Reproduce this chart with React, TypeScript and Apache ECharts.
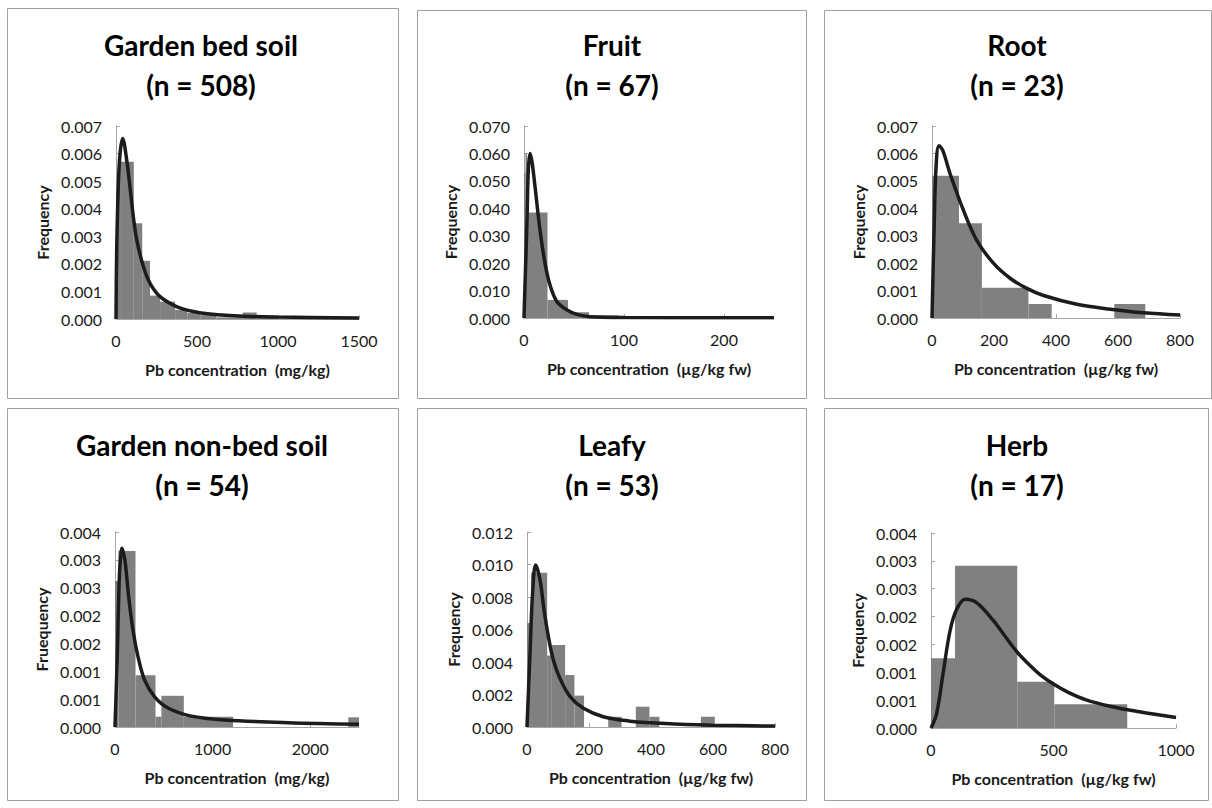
import React, { useEffect, useRef } from "react";
import * as echarts from "echarts";

const FONT = 'Lato, "Open Sans", sans-serif';

// ---------- Panel titles ----------
const panelTitles = ["Garden bed soil", "Fruit", "Root", "Garden non-bed soil", "Leafy", "Herb"];
const panelCounts = ["(n = 508)", "(n = 67)", "(n = 23)", "(n = 54)", "(n = 53)", "(n = 17)"];
const xAxisNames = [
  "Pb concentration  (mg/kg)",
  "Pb concentration  (µg/kg fw)",
  "Pb concentration  (µg/kg fw)",
  "Pb concentration  (mg/kg)",
  "Pb concentration  (µg/kg fw)",
  "Pb concentration  (µg/kg fw)",
];
const yAxisNames = ["Frequency", "Frequency", "Frequency", "Fruequency", "Frequency", "Frequency"];

// ---------- Axis ranges ----------
const xMax = [1500, 250, 800, 2500, 800, 1000];
const xInterval = [500, 100, 200, 1000, 200, 500];
const yMax = [0.007, 0.07, 0.007, 0.0035, 0.012, 0.0035];
const yInterval = [0.001, 0.01, 0.001, 0.0005, 0.002, 0.0005];

// ---------- Panel 1: Garden bed soil ----------
const bedSoilBinStart = [0, 25, 110, 162, 210, 272, 365, 440, 520, 620, 782, 868];
const bedSoilBinEnd = [25, 110, 162, 210, 272, 365, 440, 520, 620, 782, 868, 1000];
const bedSoilDensity = [0.0047, 0.0057, 0.00347, 0.00211, 0.00085, 0.00063, 0.00033, 0.00022, 0.00014, 0.00006, 0.00024, 0.00005];
const bedSoilFitX = [0, 4, 14, 25, 41, 66, 86, 107, 128, 169, 210, 272, 374, 477, 580, 786, 1000, 1500];
const bedSoilFitY = [0, 0.0024, 0.0048, 0.006, 0.00655, 0.00577, 0.0048, 0.00371, 0.00287, 0.0019, 0.00129, 0.00081, 0.00045, 0.00027, 0.00018, 0.0001, 0.00007, 0.00004];

// ---------- Panel 2: Fruit ----------
const fruitBinStart = [0, 1.5, 3, 23.5, 44, 65, 200];
const fruitBinEnd = [1.5, 3, 23.5, 44, 65, 95, 225];
const fruitDensity = [0.053, 0.06, 0.0385, 0.0066, 0.0021, 0.001, 0.0005];
const fruitFitX = [0, 1, 3, 4.3, 6, 8, 11, 16, 21, 26, 33, 43, 53, 66, 100, 250];
const fruitFitY = [0, 0.012, 0.0357, 0.054, 0.06, 0.057, 0.048, 0.032, 0.02, 0.012, 0.0059, 0.0029, 0.0013, 0.0005, 0.0002, 0.00005];

// ---------- Panel 3: Root ----------
const rootBinStart = [0, 87, 161, 311, 588];
const rootBinEnd = [87, 161, 311, 386, 688];
const rootDensity = [0.00519, 0.00345, 0.0011, 0.00051, 0.00051];
const rootFitX = [0, 6.5, 13, 22.5, 35, 58, 101, 144, 198, 252, 306, 360, 467, 575, 682, 800];
const rootFitY = [0, 0.0031, 0.0055, 0.00628, 0.0061, 0.00527, 0.00394, 0.00284, 0.002, 0.00145, 0.00108, 0.00082, 0.0005, 0.00032, 0.00019, 0.00011];

// ---------- Panel 4: Garden non-bed soil ----------
const nonBedBinStart = [0, 35, 210, 415, 475, 705, 2390];
const nonBedBinEnd = [35, 210, 415, 475, 705, 1210, 2500];
const nonBedDensity = [0.00262, 0.00316, 0.00093, 0.000185, 0.00056, 0.000185, 0.000174];
const nonBedFitX = [0, 24, 41, 55, 72, 90, 106, 140, 184, 236, 304, 406, 543, 782, 1124, 1773, 2500];
const nonBedFitY = [0, 0.00132, 0.00252, 0.003, 0.00321, 0.0031, 0.00294, 0.00234, 0.00174, 0.00126, 0.00084, 0.00054, 0.00034, 0.000195, 0.000126, 0.000077, 0.00005];

// ---------- Panel 5: Leafy ----------
const leafyBinStart = [0, 13, 65, 80, 123, 153, 262, 351, 395, 561];
const leafyBinEnd = [13, 65, 80, 123, 153, 184, 305, 395, 427, 606];
const leafyDensity = [0.0064, 0.0095, 0.0044, 0.00505, 0.0032, 0.00193, 0.00063, 0.00125, 0.00063, 0.00063];
const leafyFitX = [0, 9.7, 18, 28, 42, 55, 69, 85, 106, 139, 182, 246, 332, 400, 461, 600, 800];
const leafyFitY = [0, 0.00453, 0.00823, 0.00997, 0.00905, 0.0072, 0.00556, 0.00412, 0.003, 0.00187, 0.00115, 0.00063, 0.00036, 0.00026, 0.0002, 0.00011, 0.00006];

// ---------- Panel 6: Herb ----------
const herbBinStart = [0, 98, 352, 503];
const herbBinEnd = [98, 352, 503, 801];
const herbDensity = [0.00125, 0.00291, 0.00083, 0.000425];
const herbFitX = [0, 23, 50, 78, 105, 139, 186, 254, 300, 350, 400, 450, 503, 560, 630, 731, 850, 1000];
const herbFitY = [0, 0.00026, 0.001, 0.00175, 0.00213, 0.00231, 0.00225, 0.00193, 0.00166, 0.00137, 0.00114, 0.00094, 0.00078, 0.00064, 0.00051, 0.00039, 0.00029, 0.00019];

const binStarts = [bedSoilBinStart, fruitBinStart, rootBinStart, nonBedBinStart, leafyBinStart, herbBinStart];
const binEnds = [bedSoilBinEnd, fruitBinEnd, rootBinEnd, nonBedBinEnd, leafyBinEnd, herbBinEnd];
const densities = [bedSoilDensity, fruitDensity, rootDensity, nonBedDensity, leafyDensity, herbDensity];
const fitXs = [bedSoilFitX, fruitFitX, rootFitX, nonBedFitX, leafyFitX, herbFitX];
const fitYs = [bedSoilFitY, fruitFitY, rootFitY, nonBedFitY, leafyFitY, herbFitY];

// ---------- Layout (pixels) ----------
const layouts = [
  { box: [7, 8, 391, 390], grid: { left: 116, top: 126, width: 243, height: 193 }, tx: 201, ty: 45 },
  { box: [417, 10, 389, 388], grid: { left: 524, top: 126, width: 250, height: 192 }, tx: 612, ty: 45 },
  { box: [824, 10, 387, 388], grid: { left: 932, top: 126, width: 248, height: 192 }, tx: 1017, ty: 45 },
  { box: [7, 408, 391, 392], grid: { left: 115, top: 532, width: 244, height: 195 }, tx: 202, ty: 445 },
  { box: [417, 408, 389, 392], grid: { left: 527, top: 532, width: 248, height: 195 }, tx: 612, ty: 445 },
  { box: [824, 408, 384, 392], grid: { left: 931, top: 533, width: 245, height: 195 }, tx: 1017, ty: 445 },
];

const AXIS_GRAY = "#a6a6a6";
const TEXT = "#1a1a1a";

function buildOption() {
  const grid: any[] = [];
  const xAxis: any[] = [];
  const yAxis: any[] = [];
  const series: any[] = [];
  const graphic: any[] = [];

  layouts.forEach((l, i) => {
    grid.push({ ...l.grid });
    xAxis.push({
      type: "value",
      gridIndex: i,
      min: 0,
      max: xMax[i],
      interval: xInterval[i],
      name: xAxisNames[i],
      nameLocation: "middle",
      nameGap: 42,
      nameTextStyle: { fontFamily: FONT, fontSize: 16, fontWeight: "bold", color: TEXT },
      axisLine: { show: true, lineStyle: { color: AXIS_GRAY, width: 1 } },
      axisTick: { show: true, inside: true, length: 4, lineStyle: { color: AXIS_GRAY } },
      axisLabel: {
        fontFamily: FONT,
        fontSize: 16,
        color: TEXT,
        margin: 13,
        showMaxLabel: xMax[i] % xInterval[i] === 0,
        formatter: (v: number) => String(Math.round(v)),
      },
      splitLine: { show: false },
    });
    yAxis.push({
      type: "value",
      gridIndex: i,
      min: 0,
      max: yMax[i],
      interval: yInterval[i],
      name: yAxisNames[i],
      nameLocation: "middle",
      nameRotate: 90,
      nameGap: 66,
      nameTextStyle: { fontFamily: FONT, fontSize: 16, fontWeight: "bold", color: TEXT },
      axisLine: { show: true, lineStyle: { color: AXIS_GRAY, width: 1 } },
      axisTick: { show: true, inside: true, length: 4, lineStyle: { color: AXIS_GRAY } },
      axisLabel: {
        fontFamily: FONT,
        fontSize: 16,
        color: TEXT,
        margin: 14,
        formatter: (v: number) => (v + 1e-9).toFixed(3),
      },
      splitLine: { show: false },
    });

    const bins = binStarts[i].map((s, k) => [s, binEnds[i][k], densities[i][k]]);
    series.push({
      type: "custom",
      xAxisIndex: i,
      yAxisIndex: i,
      data: bins,
      encode: { x: [0, 1], y: 2 },
      z: 2,
      renderItem: (_params: any, api: any) => {
        const p0 = api.coord([api.value(0), api.value(2)]);
        const p1 = api.coord([api.value(1), 0]);
        return {
          type: "rect",
          shape: { x: p0[0], y: p0[1], width: p1[0] - p0[0], height: p1[1] - p0[1] },
          style: { fill: "#808080" },
        };
      },
    });

    series.push({
      type: "line",
      xAxisIndex: i,
      yAxisIndex: i,
      data: fitXs[i].map((x, k) => [x, fitYs[i][k]]),
      smooth: 0.35,
      symbol: "none",
      lineStyle: { color: "#1c1c1c", width: 3.5 },
      z: 3,
    });

    const [bx, by, bw, bh] = l.box;
    graphic.push({
      type: "rect",
      shape: { x: bx + 0.5, y: by + 0.5, width: bw, height: bh },
      style: { fill: "none", stroke: "#a0a0a0", lineWidth: 1 },
      silent: true,
    });
    graphic.push({
      type: "text",
      x: l.tx,
      y: l.ty,
      style: {
        text: panelTitles[i],
        fill: "#000",
        fontFamily: FONT,
        fontSize: 28,
        fontWeight: "bold",
        align: "center",
        verticalAlign: "middle",
      },
    });
    graphic.push({
      type: "text",
      x: l.tx,
      y: l.ty + 40,
      style: {
        text: panelCounts[i],
        fill: "#000",
        fontFamily: FONT,
        fontSize: 28,
        fontWeight: "bold",
        align: "center",
        verticalAlign: "middle",
      },
    });
  });

  return {
    animation: false,
    backgroundColor: "#ffffff",
    grid,
    xAxis,
    yAxis,
    series,
    graphic,
  };
}

export default function App() {
  const ref = useRef<HTMLDivElement>(null);
  useEffect(() => {
    if (!ref.current) return;
    const chart = echarts.init(ref.current, null, { renderer: "svg" });
    chart.setOption(buildOption());
    return () => chart.dispose();
  }, []);
  return (
    <div
      ref={ref}
      style={{ position: "fixed", left: 0, top: 0, width: 1212, height: 808, background: "#fff" }}
    />
  );
}
